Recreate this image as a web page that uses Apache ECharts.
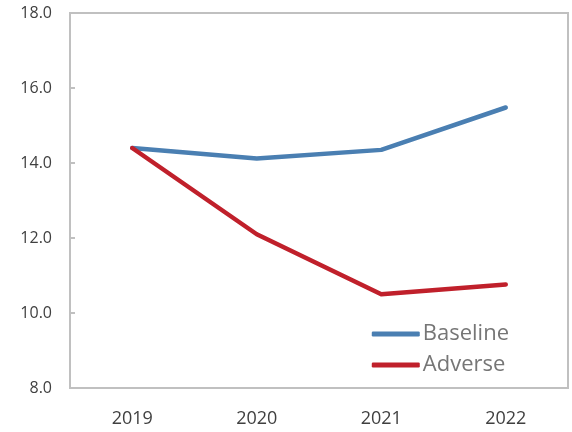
<!DOCTYPE html>
<html>
<head>
<meta charset="utf-8">
<script src="https://cdn.jsdelivr.net/npm/echarts@6/dist/echarts.min.js"></script>
<style>html,body{margin:0;padding:0;background:#fff}#c{width:572px;height:432px}</style>
</head>
<body>
<div id="c"></div>
<script>
var categories = ['2019', '2020', '2021', '2022'];
var baseline = [14.4, 14.12, 14.35, 15.48];
var adverse = [14.4, 12.1, 10.5, 10.76];
var yTicks = { min: 8, max: 18, interval: 2 };

var chart = echarts.init(document.getElementById('c'), null, { renderer: 'canvas' });
var axisColor = '#c0c0c0';
chart.setOption({
  animation: false,
  textStyle: { fontFamily: 'Open Sans' },
  grid: { left: 70, right: 4, top: 13, bottom: 44, show: true, borderColor: axisColor, borderWidth: 2 },
  legend: {
    orient: 'vertical',
    right: 58, top: 318,
    itemWidth: 48, itemHeight: 5, itemGap: 9,
    icon: 'roundRect',
    textStyle: { color: '#767676', fontSize: 22, fontFamily: 'Open Sans', padding: [0, 0, 0, -2] },
    data: ['Baseline', 'Adverse']
  },
  xAxis: {
    type: 'category', data: categories, boundaryGap: true,
    axisLine: { lineStyle: { color: axisColor, width: 2 } },
    axisTick: { inside: true, length: 7, lineStyle: { color: axisColor, width: 2 } },
    axisLabel: { color: '#404040', fontSize: 18, margin: 22 }
  },
  yAxis: {
    type: 'value', min: yTicks.min, max: yTicks.max, interval: yTicks.interval,
    splitLine: { show: false },
    axisLine: { show: true, lineStyle: { color: axisColor, width: 2 } },
    axisTick: { show: true, inside: true, length: 5, lineStyle: { color: axisColor, width: 2 } },
    axisLabel: { color: '#404040', fontSize: 16, margin: 18, formatter: function (v) { return v.toFixed(1); } }
  },
  series: [
    { name: 'Baseline', type: 'line', data: baseline, symbol: 'none', lineStyle: { color: '#4a7fb2', width: 4.5, cap: 'round', join: 'round' }, itemStyle: { color: '#4a7fb2' } },
    { name: 'Adverse', type: 'line', data: adverse, symbol: 'none', lineStyle: { color: '#c0202b', width: 4.5, cap: 'round', join: 'round' }, itemStyle: { color: '#c0202b' } }
  ]
});
</script>
</body>
</html>
